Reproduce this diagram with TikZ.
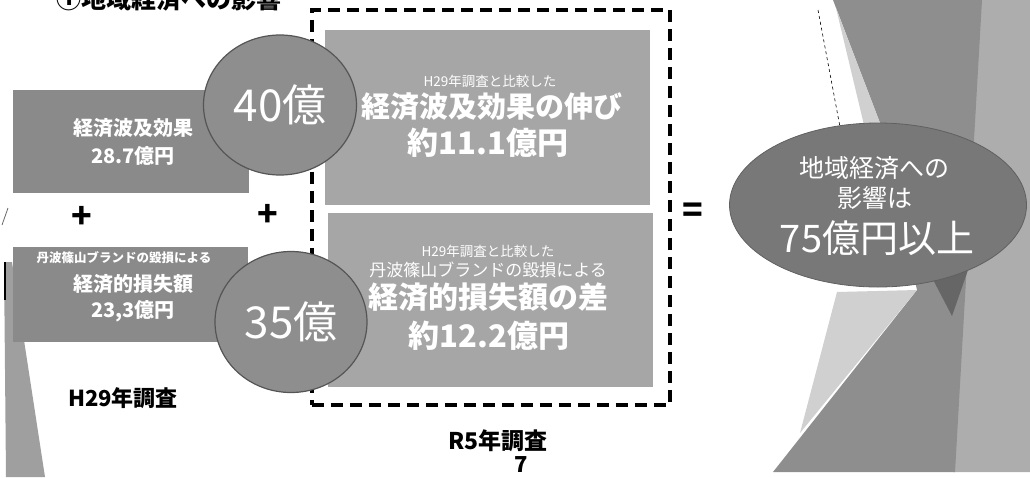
\documentclass[tikz,border=0pt]{standalone}
\usepackage{fontspec}
\setmainfont{Noto Sans CJK JP}
\usetikzlibrary{shapes.geometric}
\definecolor{boxA}{HTML}{8A8A8A}
\definecolor{boxB}{HTML}{A6A6A6}
\definecolor{circgrey}{HTML}{8E8E8E}
\definecolor{circedge}{HTML}{555555}
\definecolor{ellgrey}{HTML}{787878}
\definecolor{bgmid}{HTML}{8E8E8E}
\definecolor{bglight}{HTML}{ADADAD}
\definecolor{bgpale}{HTML}{D0D0D0}
\newcommand{\fsz}[1]{\fontsize{#1}{#1}\selectfont}
\begin{document}
\begin{tikzpicture}[x=1pt,y=-1pt,
  greybox/.style={fill=#1, draw=none, anchor=north west, inner sep=0},
  bubble/.style={ellipse, fill=circgrey, draw=circedge, line width=1.2pt, text=white, inner sep=0, font=\fsz{44}},
  wtxt/.style={text=white, inner sep=0},
  btxt/.style={text=black, inner sep=0, font=\bfseries},
  dashbox/.style={draw=black, line width=3.5pt, dash pattern=on 12pt off 7pt, anchor=north west, inner sep=0}]
\useasboundingbox (0,0) rectangle (1030,477);
% right decorative background
\fill[bglight] (980,0) -- (1030,0) -- (1030,472) -- (953,472) -- cycle;
\fill[bgmid] (833,0) -- (982,0) -- (955,472) -- (773,472) -- (917,290) -- (880,123) -- cycle;
\fill[bgpale] (836,8) -- (880,123) -- (864,125) -- cycle;
\fill[bgpale] (837,292) -- (917,290) -- (800,433) -- cycle;
\draw[black, line width=0.6pt, dashed] (818,10) -- (840,127);
% left decorative strip
\fill[bgmid!85] (4,262) -- (12,262) -- (45,477) -- (6,477) -- cycle;
\draw[black, line width=1.2pt] (5,262) -- (5,300);
\draw[black!60, line width=0.8pt] (2,225) -- (8,208);
% boxes
\node[greybox=boxA, minimum width=236pt, minimum height=103pt] (b1) at (13,90) {};
\node[greybox=boxA, minimum width=235pt, minimum height=95pt] (b2) at (13,247) {};
\node[greybox=boxB, minimum width=325pt, minimum height=175pt] (b3) at (325,30) {};
\node[greybox=boxB, minimum width=325pt, minimum height=174pt] (b4) at (328,213) {};
% dashed frame
\node[dashbox, minimum width=358pt, minimum height=395pt] (frame) at (310,8) {};
% circles
\node[bubble, minimum width=153pt, minimum height=140pt] (c40) at (280,105) {40億};
\node[bubble, minimum width=152pt, minimum height=141pt] (c35) at (291,322) {35億};
% left box texts
\node[wtxt, font=\bfseries\fsz{20}] (t1a) at (133,128) {経済波及効果};
\node[wtxt, font=\bfseries\fsz{20}] (t1b) at (133,156) {28.7億円};
\node[wtxt, font=\bfseries\fsz{12.5}] (t2a) at (124,258) {丹波篠山ブランドの毀損による};
\node[wtxt, font=\bfseries\fsz{20}] (t2b) at (133,284) {経済的損失額};
\node[wtxt, font=\bfseries\fsz{20}] (t2c) at (133,311) {23,3億円};
% R5 box texts
\node[wtxt, font=\fsz{13.5}] (t3a) at (490,81) {H29年調査と比較した};
\node[wtxt, font=\bfseries\fsz{29}] (t3b) at (492,107) {経済波及効果の伸び};
\node[wtxt, font=\bfseries\fsz{31}] (t3c) at (488,143) {約11.1億円};
\node[wtxt, font=\fsz{13.5}] (t4a) at (488,251) {H29年調査と比較した};
\node[wtxt, font=\fsz{17}] (t4b) at (488,270) {丹波篠山ブランドの毀損による};
\node[wtxt, font=\bfseries\fsz{30}] (t4c) at (488,297) {経済的損失額の差};
\node[wtxt, font=\bfseries\fsz{31}] (t4d) at (489,336) {約12.2億円};
% operators
\node[btxt, font=\bfseries\fsz{34}] (plus1) at (82,217) {+};
\node[btxt, font=\bfseries\fsz{34}] (plus2) at (268,215) {+};
\node[btxt, font=\bfseries\fsz{34}] (eq) at (693,213) {=};
% labels
\node[btxt, font=\bfseries\fsz{25}, anchor=base] (title) at (169,8) {①地域経済への影響};
\node[btxt, font=\bfseries\fsz{22}] (h29) at (123,398) {H29年調査};
\node[btxt, font=\bfseries\fsz{23}] (r5) at (498,441) {R5年調査};
\node[btxt, font=\bfseries\fsz{22}] (pg) at (521,465) {7};
% result ellipse with tail
\fill[ellgrey!85!black] (928,270) -- (968,270) -- (952,316) -- cycle;
\node[ellipse, fill=ellgrey, draw=ellgrey!80!black, line width=0.8pt, minimum width=297pt, minimum height=164pt, inner sep=0] (res) at (878,205) {};
\node[wtxt, font=\fsz{25}] (r1) at (874,168) {地域経済への};
\node[wtxt, font=\fsz{25}] (r2) at (875,198) {影響は};
\node[wtxt, font=\fsz{38}] (r3) at (877,238) {75億円以上};
\end{tikzpicture}
\end{document}
